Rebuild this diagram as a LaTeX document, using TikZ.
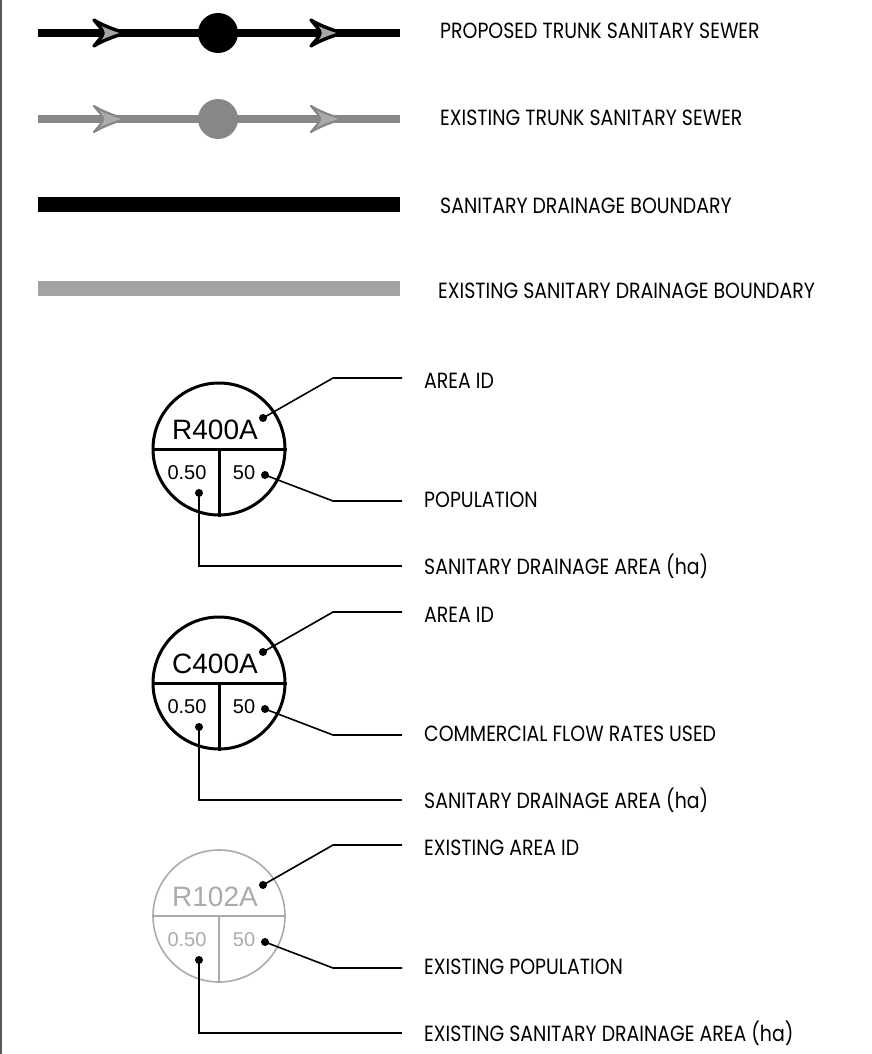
\documentclass[tikz,border=0pt]{standalone}
\usepackage{fontspec}
\setmainfont[FakeStretch=0.86]{Poppins}
\newfontfamily\circfont{Liberation Sans}
\begin{document}
\begin{tikzpicture}[x=1pt,y=-1pt,
  lbl/.style={anchor=base west,inner sep=0pt,font=\fontsize{22}{22}\selectfont},
  idtxt/.style={inner sep=0pt,anchor=base,font=\circfont\fontsize{28}{28}\selectfont},
  numtxt/.style={inner sep=0pt,anchor=base,font=\circfont\fontsize{20}{20}\selectfont},
  leader/.style={draw=black,line width=1.6pt},
  dotmark/.style={circle,fill=black,inner sep=0pt,minimum size=8pt},
  barb/.pic={
    \path[pic actions,line join=round]
    (126,0) .. controls (114,-3) and (100,-9) .. (94,-13)
    .. controls (99,-7) and (103,-3) .. (103,0)
    .. controls (103,3) and (99,7) .. (94,13)
    .. controls (100,9) and (114,3) .. (126,0) -- cycle;}]
\useasboundingbox (0,0) rectangle (871,1054);
\fill[white] (0,0) rectangle (871,1054);
\draw[color=black!65,line width=2pt] (1,0) -- (1,1054);
% row 1
\coordinate (p1a) at (38,33);
\coordinate (p1b) at (400,33);
\draw[line width=7.5pt] (p1a) -- (p1b);
\node[circle,fill=black,inner sep=0pt,minimum size=40pt] (p1c) at (218,33) {};
\pic[draw=black,line width=3.4pt,fill=black!35] at (0,33) {barb};
\pic[draw=black,line width=3.4pt,fill=black!35] at (217,33) {barb};
\node[lbl] (t1) at (440,39) {PROPOSED TRUNK SANITARY SEWER};
% row 2
\coordinate (p2a) at (38,119);
\coordinate (p2b) at (400,119);
\draw[line width=7.5pt,color=black!47] (p2a) -- (p2b);
\node[circle,fill=black!47,inner sep=0pt,minimum size=40pt] (p2c) at (218,119) {};
\pic[draw=black!47,line width=2.2pt,fill=black!33] at (0,119) {barb};
\pic[draw=black!47,line width=2.2pt,fill=black!33] at (217,119) {barb};
\node[lbl] (t2) at (440,125) {EXISTING TRUNK SANITARY SEWER};
% row 3
\fill[black] (38,197) rectangle (400,212);
\node[lbl] (t3) at (440,213) {SANITARY DRAINAGE BOUNDARY};
% row 4
\fill[black!36] (38,281) rectangle (400,296);
\node[lbl] (t4) at (438,298) {EXISTING SANITARY DRAINAGE BOUNDARY};
% legend groups
\newcommand\legendgroup[9]{%
  \begin{scope}[yshift=-#2]
    \node[circle,draw=#4,line width=#5,inner sep=0pt,minimum size=132pt] (#1c) at (219,449) {};
    \draw[#4,line width=#5] (#1c.west) -- (#1c.east);
    \draw[#4,line width=#5] (#1c.center) -- (#1c.south);
    \node[idtxt,text=#4] (#1id) at (215,439) {#3};
    \node[numtxt,text=#4] (#1ar) at (187,479) {0.50};
    \node[numtxt,text=#4] (#1po) at (244,479) {50};
    \node[dotmark] (#1d1) at (263,418) {};
    \node[dotmark] (#1d2) at (265,475) {};
    \node[dotmark] (#1d3) at (199,493) {};
    \coordinate (#1k1) at (333,378);
    \coordinate (#1e1) at (402,378);
    \coordinate (#1k2) at (333,501);
    \coordinate (#1e2) at (402,501);
    \coordinate (#1k3) at (199,566);
    \coordinate (#1e3) at (402,566);
    \draw[leader] (#1d1.center) -- (#1k1) -- (#1e1);
    \draw[leader] (#1d2.center) -- (#1k2) -- (#1e2);
    \draw[leader] (#1d3.center) -- (#1k3) -- (#1e3);
    \node[lbl] (#1l1) at (#9,388) {#6};
    \node[lbl] (#1l2) at (#9,507) {#7};
    \node[lbl] (#1l3) at (#9,574) {#8};
  \end{scope}}
\legendgroup{ga}{0}{R400A}{black}{3pt}{AREA ID}{POPULATION}{SANITARY DRAINAGE AREA (ha)}{424}
\legendgroup{gb}{234}{C400A}{black}{3pt}{AREA ID}{COMMERCIAL FLOW RATES USED}{SANITARY DRAINAGE AREA (ha)}{424}
\legendgroup{gc}{467}{R102A}{black!33}{1.6pt}{EXISTING AREA ID}{EXISTING POPULATION}{EXISTING SANITARY DRAINAGE AREA (ha)}{424}
\end{tikzpicture}
\end{document}
